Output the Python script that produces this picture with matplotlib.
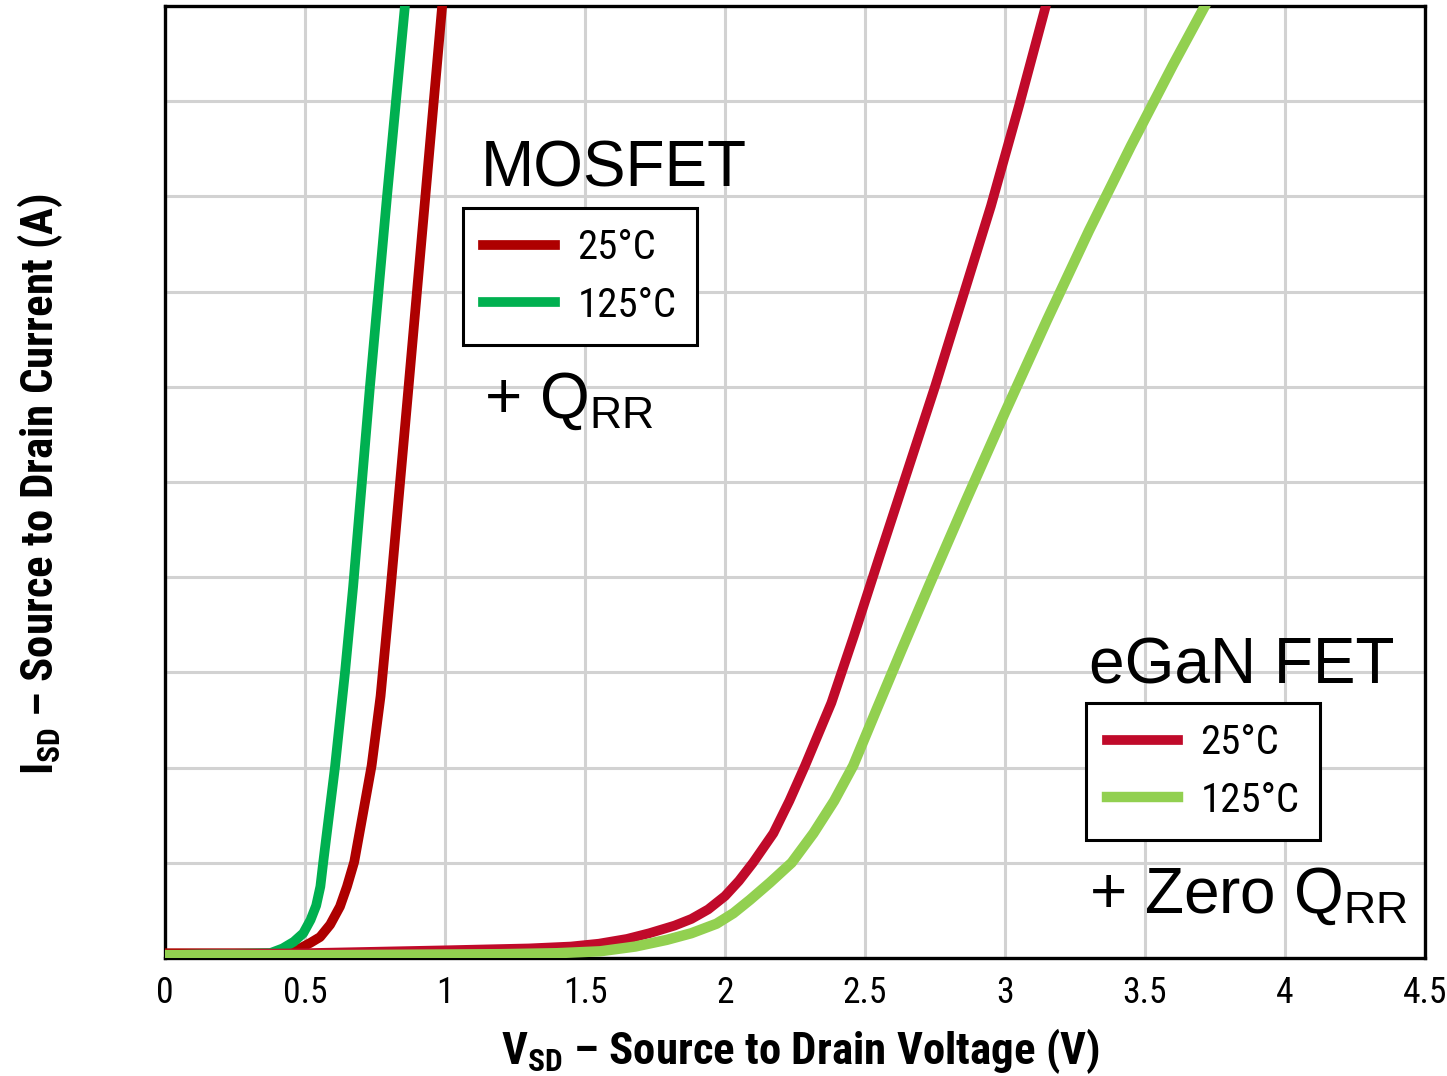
import matplotlib
matplotlib.use('Agg')
import matplotlib.pyplot as plt
from matplotlib import font_manager

# --- data (V, arbitrary current units: 0..10 grid) ---
mos_25_v = [0.0, 0.386, 0.45, 0.482, 0.52, 0.554, 0.59, 0.625, 0.65, 0.676, 0.70, 0.738, 0.77,
            0.805, 0.87, 0.93, 0.99]
mos_25_i = [0.05, 0.05, 0.08, 0.10, 0.16, 0.22, 0.35, 0.54, 0.75, 1.01, 1.4, 2.02, 2.75,
            3.85, 6.0, 8.0, 10.0]

mos_125_v = [0.0, 0.375, 0.42, 0.46, 0.494, 0.52, 0.54, 0.555, 0.565, 0.607, 0.643, 0.672,
             0.732, 0.793, 0.857]
mos_125_i = [0.03, 0.05, 0.10, 0.17, 0.26, 0.40, 0.55, 0.75, 1.0, 2.0, 3.0, 3.9,
             6.0, 8.0, 10.0]

egan_25_v = [0.0, 0.5, 1.0, 1.3, 1.45, 1.55, 1.65, 1.73, 1.82, 1.88, 1.94, 2.0, 2.05, 2.10,
             2.173, 2.23, 2.286, 2.38, 2.46, 2.55, 2.65, 2.75, 2.85, 2.95, 3.05, 3.143]
egan_25_i = [0.03, 0.05, 0.08, 0.10, 0.12, 0.15, 0.20, 0.26, 0.34, 0.41, 0.51, 0.65, 0.81, 1.0,
             1.31, 1.65, 2.02, 2.68, 3.38, 4.2, 5.1, 6.0, 6.95, 7.9, 8.95, 9.97]

egan_125_v = [0.0, 0.6, 1.2, 1.4, 1.554, 1.68, 1.792, 1.88, 1.97, 2.03, 2.089, 2.16, 2.238,
              2.316, 2.39, 2.458, 2.54, 2.63, 2.73, 2.86, 3.0, 3.15, 3.3, 3.45, 3.6, 3.714]
egan_125_i = [0.03, 0.03, 0.04, 0.05, 0.07, 0.12, 0.19, 0.26, 0.36, 0.47, 0.61, 0.79, 1.0,
              1.31, 1.65, 2.02, 2.6, 3.23, 3.92, 4.8, 5.73, 6.7, 7.64, 8.53, 9.38, 10.0]

x_ticks = [0, 0.5, 1, 1.5, 2, 2.5, 3, 3.5, 4, 4.5]
x_ticklabels = ['0', '0.5', '1', '1.5', '2', '2.5', '3', '3.5', '4', '4.5']
y_grid = [1, 2, 3, 4, 5, 6, 7, 8, 9]

# pick a condensed face if one is around (the original uses a condensed sans)
installed = {f.name for f in font_manager.fontManager.ttflist}
narrow_choices = [('Liberation Sans Narrow', 1.0), ('Roboto Condensed', 0.95),
                  ('DejaVu Sans Condensed', 0.85), ('Open Sans Condensed', 0.95),
                  ('Lato', 0.86), ('DejaVu Sans', 0.78)]
for name, k in narrow_choices:
    if name in installed:
        narrow_name, sc = name, k
        break
narrow = [narrow_name, 'DejaVu Sans']

plt.rcParams['font.family'] = ['Liberation Sans', 'DejaVu Sans']
plt.rcParams['mathtext.fontset'] = 'custom'
plt.rcParams['mathtext.rm'] = 'Liberation Sans'
plt.rcParams['mathtext.bf'] = narrow_name + ':bold'

fig = plt.figure(figsize=(14.47, 10.76), dpi=100)
ax = fig.add_axes([0.114, 0.1097, 0.8708, 0.8848])

l1, = ax.plot(mos_25_v, mos_25_i, color='#AE0000', lw=7, label='25°C', zorder=3)
l2, = ax.plot(mos_125_v, mos_125_i, color='#00B050', lw=7, label='125°C', zorder=3)
l3, = ax.plot(egan_25_v, egan_25_i, color='#C00A2A', lw=7, label='25°C', zorder=4)
l4, = ax.plot(egan_125_v, egan_125_i, color='#92D050', lw=7.5, label='125°C', zorder=4)

ax.set_xlim(0, 4.5)
ax.set_ylim(0, 10)
ax.set_xticks(x_ticks)
ax.set_xticklabels(x_ticklabels, family=narrow, fontsize=27 * sc)
ax.set_yticks(y_grid)
ax.set_yticklabels([])
ax.tick_params(length=0, pad=12)
ax.grid(True, color='#d2d2d2', lw=2.2, zorder=0)
ax.set_axisbelow(True)
for s in ax.spines.values():
    s.set_linewidth(2.4)
    s.set_color('black')

ax.set_xlabel(r'V$_{\bf SD}$ – Source to Drain Voltage (V)', family=narrow, weight='bold',
              fontsize=34 * sc, va='center')
ax.xaxis.set_label_coords(0.504, -0.0975)
ax.set_ylabel(r'I$_{\bf SD}$ – Source to Drain Current (A)', family=narrow, weight='bold',
              fontsize=34 * sc, va='center')
ax.yaxis.set_label_coords(-0.099, 0.4975)

leg_kw = dict(prop={'family': narrow, 'size': 31 * sc}, frameon=True, fancybox=False,
              edgecolor='black', framealpha=1, borderpad=0.5, labelspacing=0.45,
              handlelength=1.75, handletextpad=0.55, borderaxespad=0)
leg1 = ax.legend(handles=[l1, l2], loc='upper left', bbox_to_anchor=(0.2365, 0.788), **leg_kw)
leg1.get_frame().set_linewidth(2.2)
ax.add_artist(leg1)
leg2 = ax.legend(handles=[l3, l4], loc='upper left', bbox_to_anchor=(0.731, 0.268), **leg_kw)
leg2.get_frame().set_linewidth(2.2)

ax.text(1.129, 8.10, 'MOSFET', fontsize=46, va='baseline', ha='left', zorder=5)
ax.text(1.14, 5.67, r'+ Q$_{\rm RR}$', fontsize=46, va='baseline', ha='left', zorder=5)
ax.text(3.30, 2.88, 'eGaN FET', fontsize=46, va='baseline', ha='left', zorder=5)
ax.text(3.30, 0.47, r'+ Zero Q$_{\rm RR}$', fontsize=46, va='baseline', ha='left', zorder=5)

fig.savefig('out.png', dpi=100)
